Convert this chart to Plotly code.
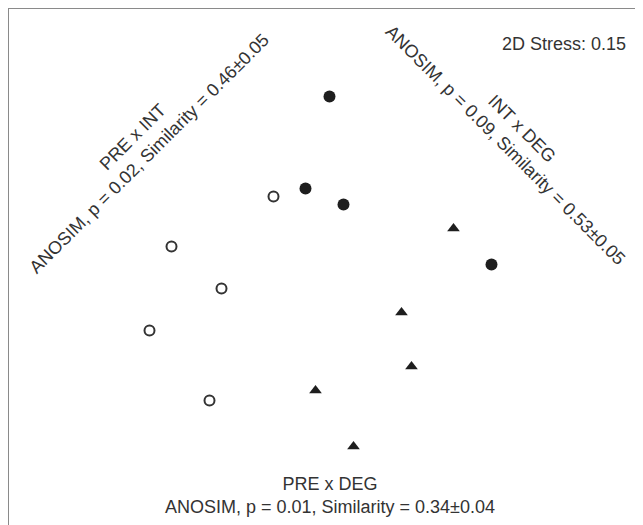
import plotly.graph_objects as go

# NMDS coordinates
pre_x = [-0.24, -0.75, -0.50, -0.86, -0.56]
pre_y = [0.33, 0.08, -0.13, -0.34, -0.69]
int_x = [0.04, -0.08, 0.11, 0.85]
int_y = [0.83, 0.37, 0.29, -0.01]
deg_x = [0.66, 0.40, 0.45, -0.03, 0.16]
deg_y = [0.17, -0.25, -0.52, -0.64, -0.92]

stress_label = "2D Stress: 0.15"
pre_int_label = "PRE x INT<br>ANOSIM, p = 0.02, Similarity = 0.46±0.05"
int_deg_label = "INT x DEG<br>ANOSIM, p = 0.09, Similarity = 0.53±0.05"
pre_deg_label = "PRE x DEG<br>ANOSIM, p = 0.01, Similarity = 0.34±0.04"

ink = "#1e1e1e"
fig = go.Figure()
fig.add_trace(go.Scatter(x=pre_x, y=pre_y, mode="markers", name="PRE",
                         marker=dict(symbol="circle-open", size=10, color="#333333",
                                     line=dict(width=2, color="#333333"))))
fig.add_trace(go.Scatter(x=int_x, y=int_y, mode="markers", name="INT",
                         marker=dict(symbol="circle", size=12, color=ink)))
fig.add_trace(go.Scatter(x=deg_x, y=deg_y, mode="markers", name="DEG",
                         marker=dict(symbol="triangle-up", size=11, color=ink)))

font = dict(family="Liberation Sans, Arial, sans-serif", size=18, color="#333333")
fig.add_annotation(x=1.5325, y=1.0925, text=stress_label, showarrow=False,
                   xanchor="right", yanchor="middle", font=font)
fig.add_annotation(x=-0.905, y=0.585, text=pre_int_label, showarrow=False,
                   textangle=-45, xanchor="center", yanchor="middle", font=font)
fig.add_annotation(x=0.96, y=0.63, text=int_deg_label, showarrow=False,
                   textangle=45, xanchor="center", yanchor="middle", font=font)
fig.add_annotation(x=0.0425, y=-1.165, text=pre_deg_label, showarrow=False,
                   xanchor="center", yanchor="middle", font=font)

fig.update_layout(
    width=635, height=517,
    margin=dict(l=1, r=0, t=1, b=0),
    paper_bgcolor="white", plot_bgcolor="white",
    showlegend=False,
    xaxis=dict(range=[-1.5625, 1.6075], side="top", showline=True, linecolor="#8a8a8a",
               linewidth=2, showgrid=False, zeroline=False, showticklabels=False, ticks=""),
    yaxis=dict(range=[-1.3125, 1.2675], showline=True, linecolor="#8a8a8a",
               linewidth=2, showgrid=False, zeroline=False, showticklabels=False, ticks=""),
)
fig.write_html("out.html")
